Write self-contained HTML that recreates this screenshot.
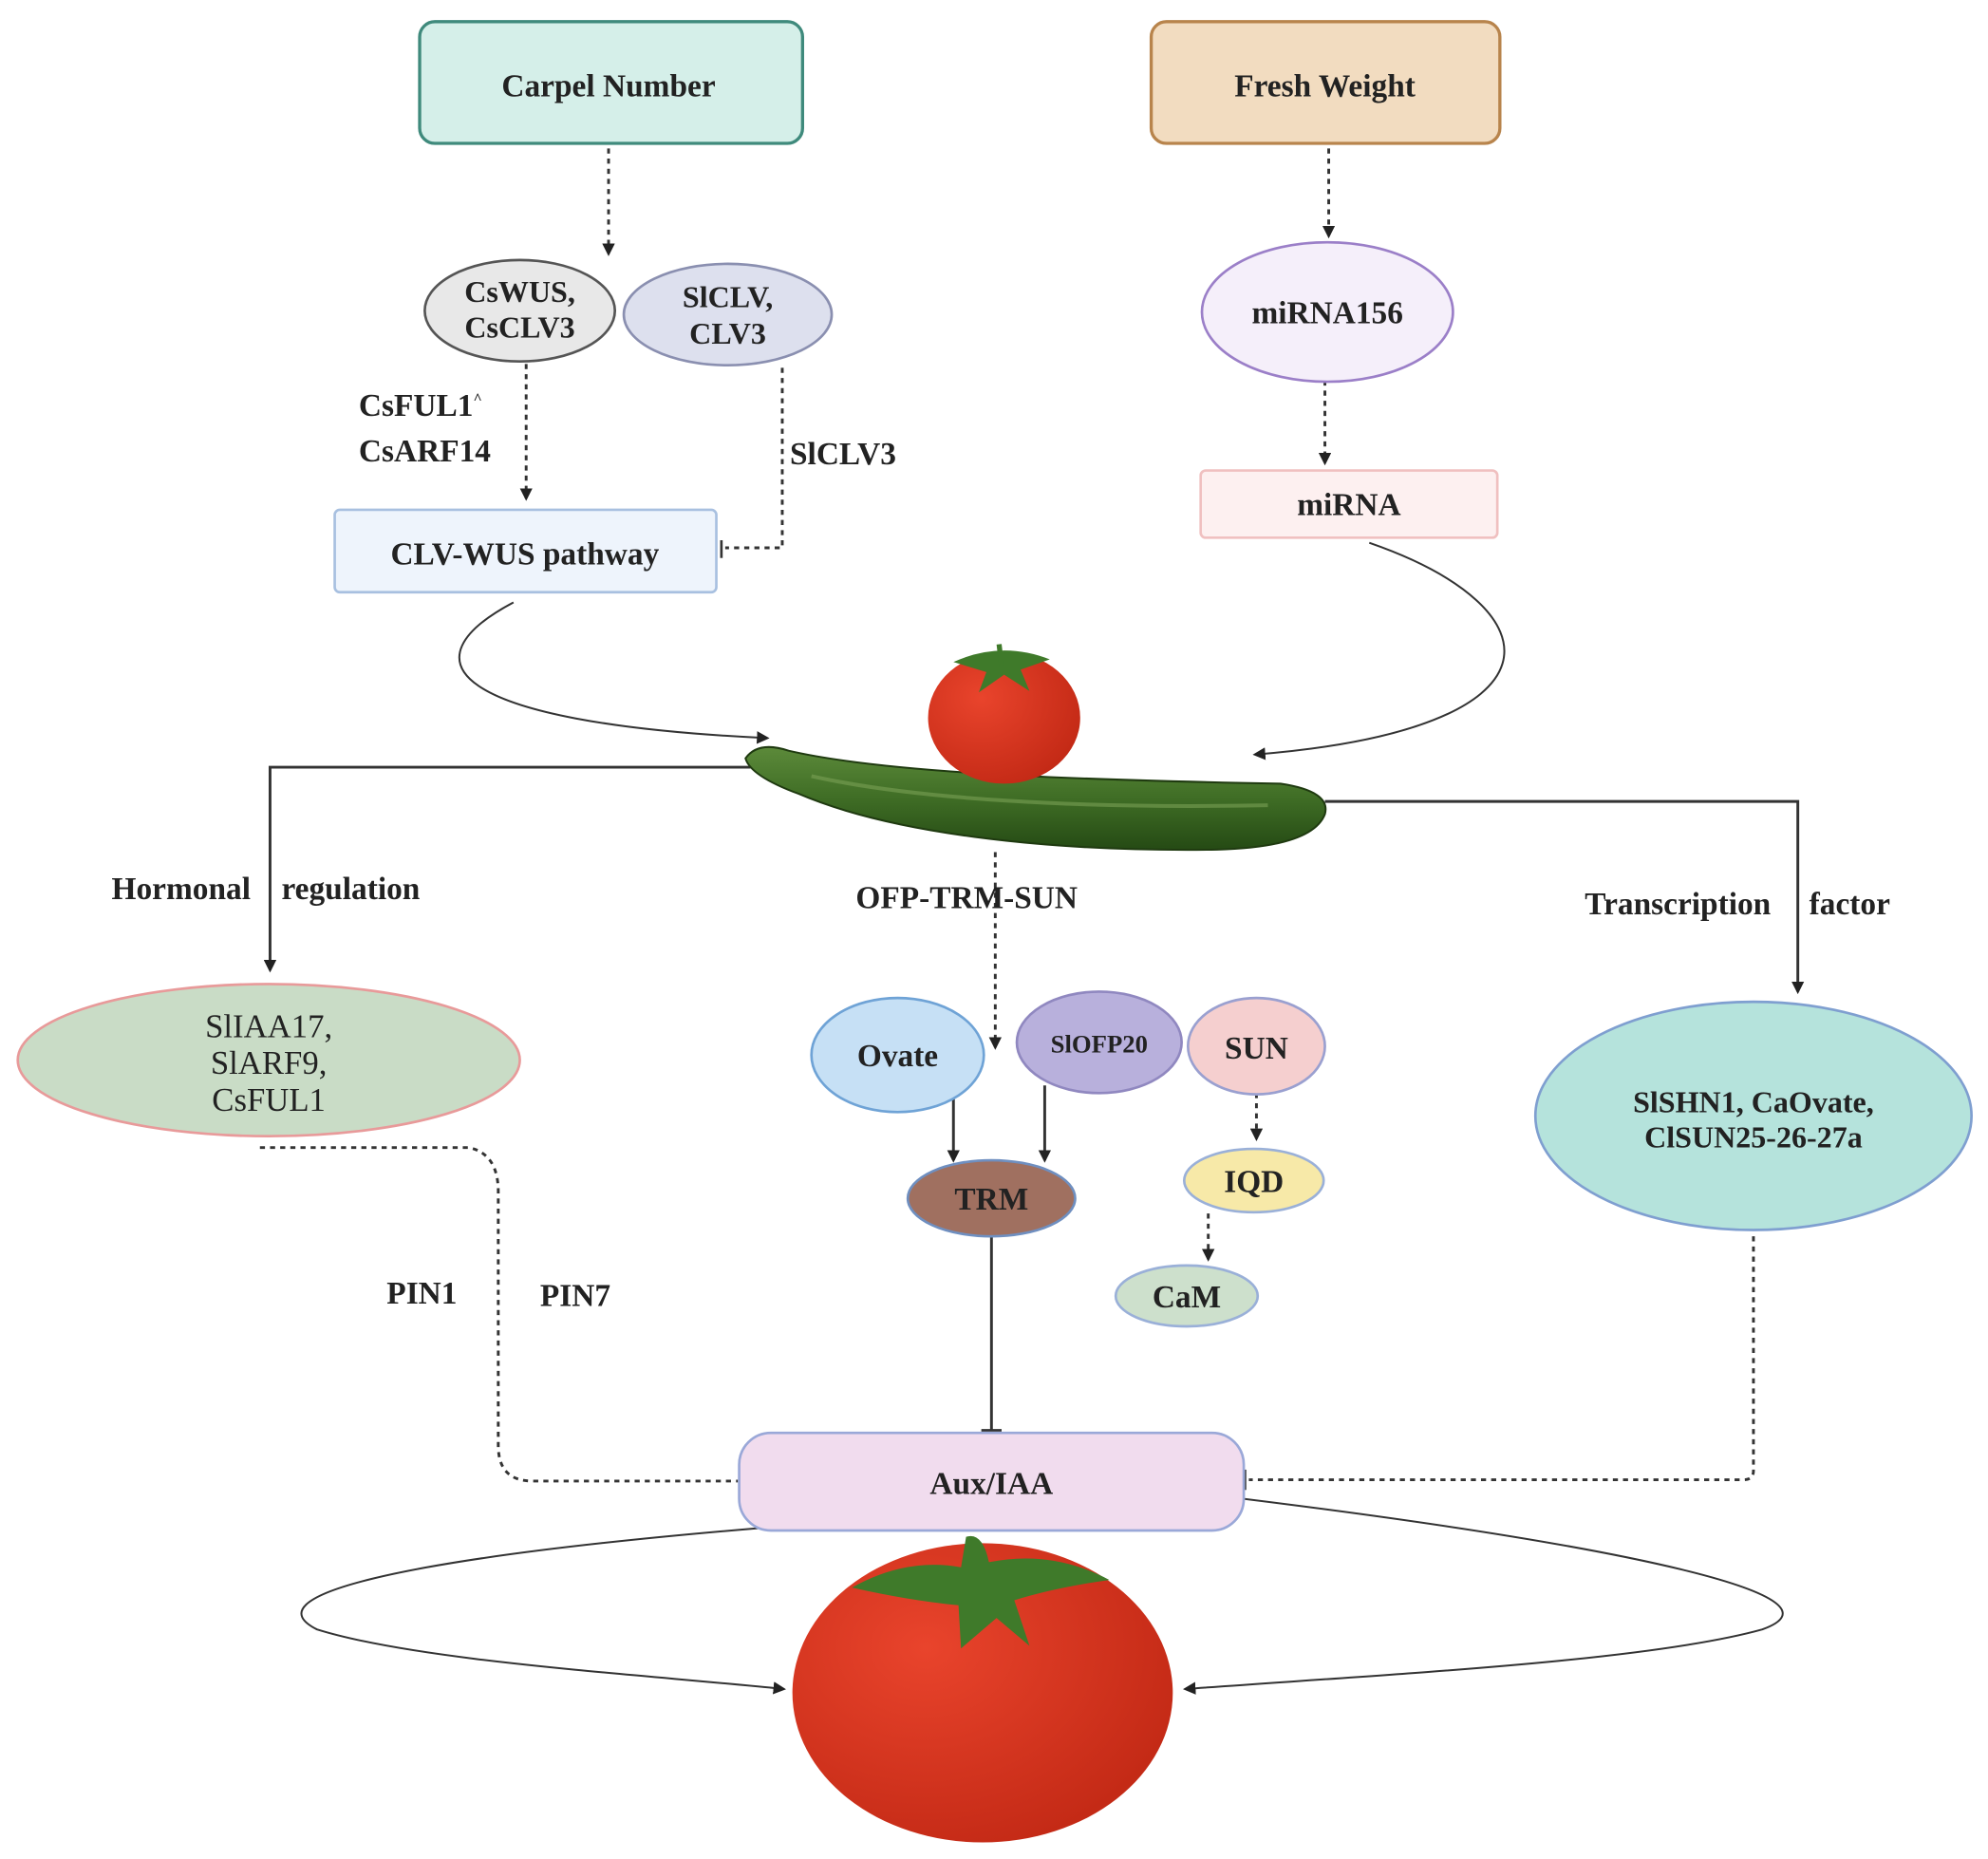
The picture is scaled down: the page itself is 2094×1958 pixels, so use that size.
<!DOCTYPE html>
<html><head><meta charset="utf-8"><style>html,body{margin:0;padding:0;background:#fff}svg{display:block}</style></head>
<body>
<svg width="2094" height="1958" viewBox="0 0 1568 1466" xmlns="http://www.w3.org/2000/svg" font-family="Liberation Serif, serif">
<defs>
<marker id="a" markerWidth="10" markerHeight="10" refX="8" refY="5" orient="auto" markerUnits="userSpaceOnUse"><path d="M0,0 L10,5 L0,10 z" fill="#222"/></marker>
<radialGradient id="tg" cx="0.35" cy="0.35" r="0.7"><stop offset="0" stop-color="#e9442c"/><stop offset="1" stop-color="#c42a16"/></radialGradient>
<linearGradient id="cg" x1="0" y1="0" x2="0" y2="1"><stop offset="0" stop-color="#5c8a3a"/><stop offset="0.5" stop-color="#3f6d25"/><stop offset="1" stop-color="#254a14"/></linearGradient>
</defs>
<g font-weight="bold" font-size="25" text-anchor="middle" fill="#222">
<rect x="331" y="17" width="302" height="96" rx="12" fill="#d5efe9" stroke="#3f8a7c" stroke-width="2.5"/>
<text x="480" y="76">Carpel Number</text>
<rect x="908" y="17" width="275" height="96" rx="12" fill="#f2dcc0" stroke="#b8844c" stroke-width="2.5"/>
<text x="1045" y="76">Fresh Weight</text>
</g>
<g fill="none" stroke="#333" stroke-width="2.2" stroke-dasharray="4,4">
<path d="M480 117 V200" marker-end="url(#a)"/>
<path d="M415 287 V393" marker-end="url(#a)"/>
<path d="M617 290 V432 H572"/>
<path d="M1048 117 V186" marker-end="url(#a)"/>
<path d="M1045 300 V365" marker-end="url(#a)"/>
<path d="M785 672 V826" marker-end="url(#a)"/>
<path d="M991 862 V898" marker-end="url(#a)"/>
<path d="M953 957 V993" marker-end="url(#a)"/>
<path d="M205 905 H370 Q393 910 393 940 V1140 Q393 1168 420 1168 H582"/>
<path d="M1383 975 V1160 Q1383 1167 1375 1167 H985"/>
</g>
<g stroke="#333" stroke-width="2"><path d="M569 426 V440"/><path d="M585 1160 V1176"/><path d="M982 1159 V1175"/><path d="M774 1128 H790"/></g>
<ellipse cx="410" cy="245" rx="75" ry="40" fill="#e8e8e8" stroke="#555" stroke-width="2"/>
<ellipse cx="574" cy="248" rx="82" ry="40" fill="#dde0ee" stroke="#8a8fb0" stroke-width="2"/>
<rect x="264" y="402" width="301" height="65" rx="4" fill="#eef4fc" stroke="#a8c0e0" stroke-width="2"/>
<ellipse cx="1047" cy="246" rx="99" ry="55" fill="#f5effa" stroke="#9b7fc8" stroke-width="2"/>
<rect x="947" y="371" width="234" height="53" rx="4" fill="#fdf0f0" stroke="#f0c0c0" stroke-width="2"/>
<g font-weight="bold" font-size="25" text-anchor="middle" fill="#222">
<text x="410" y="238" font-size="24">CsWUS,</text><text x="410" y="266" font-size="24">CsCLV3</text>
<text x="574" y="242" font-size="24">SlCLV,</text><text x="574" y="271" font-size="24">CLV3</text>
<text x="414" y="445">CLV-WUS pathway</text>
<text x="1047" y="255">miRNA156</text>
<text x="1064" y="406">miRNA</text>
</g>
<g font-weight="bold" font-size="25" fill="#222">
<text x="283" y="328">CsFUL1<tspan font-size="12" dy="-10">^</tspan></text>
<text x="283" y="364">CsARF14</text>
<text x="623" y="366">SlCLV3</text>
<text x="88" y="709">Hormonal</text><text x="222" y="709">regulation</text>
<text x="675" y="716">OFP-TRM-SUN</text>
<text x="1250" y="721">Transcription</text><text x="1427" y="721">factor</text>
<text x="305" y="1028">PIN1</text>
<text x="426" y="1030">PIN7</text>
</g>
<g fill="none" stroke="#333" stroke-width="1.5">
<path d="M405 475 C320 520 350 570 605 582" marker-end="url(#a)"/>
<path d="M1080 428 C1230 480 1240 575 990 595" marker-end="url(#a)"/>
<path d="M600 1205 C300 1230 200 1260 250 1285 C330 1310 500 1320 618 1332" marker-end="url(#a)"/>
<path d="M940 1177 C1300 1220 1460 1260 1390 1285 C1300 1310 1100 1320 935 1332" marker-end="url(#a)"/>
</g>
<g stroke="#333" stroke-width="2.2" fill="none">
<path d="M592 605 H213 V765" marker-end="url(#a)"/>
<path d="M1045 632 H1418 V782" marker-end="url(#a)"/>
<path d="M752 866 V915" marker-end="url(#a)"/>
<path d="M824 856 V915" marker-end="url(#a)"/>
<path d="M782 975 V1128"/>
</g>
<!-- cucumber -->
<path d="M588 598 Q598 584 622 592 C700 610 850 615 1010 618 Q1050 624 1045 642 Q1035 668 960 670 C820 672 700 656 630 626 Q592 612 588 598 z" fill="url(#cg)" stroke="#1f3a10" stroke-width="1.5"/>
<path d="M640 612 C720 630 850 638 1000 635" stroke="#7aa055" stroke-width="3" fill="none" opacity="0.6"/>
<!-- small tomato -->
<ellipse cx="792" cy="566" rx="60" ry="52" fill="url(#tg)"/>
<path d="M752 522 Q790 505 828 520 L805 528 L812 545 L792 532 L772 546 L778 530 z" fill="#3f7a2a"/>
<path d="M790 525 L788 508" stroke="#3f7a2a" stroke-width="4"/>
<ellipse cx="212" cy="836" rx="198" ry="60" fill="#c9dcc6" stroke="#e89a9a" stroke-width="2"/>
<ellipse cx="708" cy="832" rx="68" ry="45" fill="#c6e0f5" stroke="#6fa3d6" stroke-width="2"/>
<ellipse cx="867" cy="822" rx="65" ry="40" fill="#b8b0dc" stroke="#9088c0" stroke-width="2"/>
<ellipse cx="991" cy="825" rx="54" ry="38" fill="#f5cfcf" stroke="#9aa0d0" stroke-width="2"/>
<ellipse cx="782" cy="945" rx="66" ry="30" fill="#a07060" stroke="#6f8fc0" stroke-width="2"/>
<ellipse cx="989" cy="931" rx="55" ry="25" fill="#f7e9a8" stroke="#9ab0d8" stroke-width="2"/>
<ellipse cx="936" cy="1022" rx="56" ry="24" fill="#cde0cc" stroke="#9ab0d8" stroke-width="2"/>
<ellipse cx="1383" cy="880" rx="172" ry="90" fill="#b5e3dc" stroke="#7f9fd0" stroke-width="2"/>
<rect x="583" y="1130" width="398" height="77" rx="25" fill="#f1dcee" stroke="#9aa8d8" stroke-width="2"/>
<g font-size="26" text-anchor="middle" fill="#222" transform="translate(0,0)">
<text x="212" y="818" transform="scale(1,1)">SlIAA17,</text><text x="212" y="847">SlARF9,</text><text x="212" y="876">CsFUL1</text>
</g>
<g font-weight="bold" font-size="25" text-anchor="middle" fill="#222">
<text x="708" y="841">Ovate</text>
<text x="867" y="830" font-size="20">SlOFP20</text>
<text x="991" y="835">SUN</text>
<text x="782" y="954">TRM</text>
<text x="989" y="940">IQD</text>
<text x="936" y="1031">CaM</text>
<text x="1383" y="877" font-size="24">SlSHN1, CaOvate,</text>
<text x="1383" y="905" font-size="24">ClSUN25-26-27a</text>
<text x="782" y="1178">Aux/IAA</text>
</g>
<!-- big tomato -->
<ellipse cx="775" cy="1335" rx="150" ry="118" fill="url(#tg)"/>
<path d="M672 1252 Q715 1228 758 1236 L762 1212 Q775 1208 780 1232 Q830 1222 875 1246 Q832 1252 800 1262 L812 1298 L786 1276 L758 1300 L756 1266 Q716 1262 672 1252 z" fill="#3f7a2a"/>
</svg>
</body></html>
